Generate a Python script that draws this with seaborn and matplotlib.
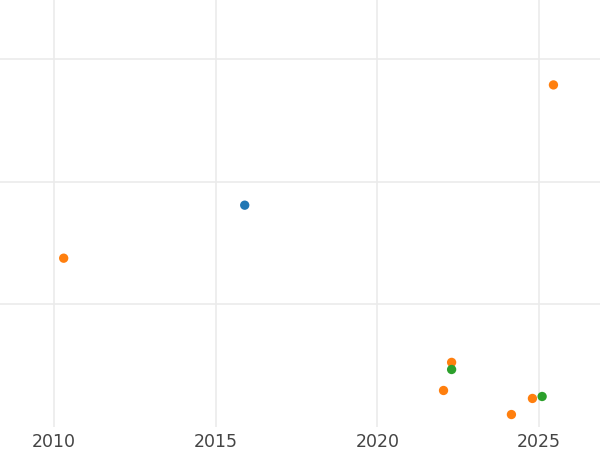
import pandas as pd
import matplotlib.pyplot as plt
import seaborn as sns

years = [2010.3, 2015.9, 2025.45, 2022.3, 2022.3, 2022.05, 2024.15, 2024.8, 2025.1]
values = [13.76, 18.08, 27.88, 5.27, 4.69, 2.98, 1.02, 2.33, 2.49]
groups = ["B", "A", "B", "B", "C", "B", "B", "B", "C"]
colors = {"A": "#1f77b4", "B": "#ff7f0e", "C": "#2ca02c"}

df = pd.DataFrame({"year": years, "value": values, "group": groups})

sns.set_style("whitegrid")
fig = plt.figure(figsize=(6, 4.5), dpi=100)
ax = fig.add_axes([0, 0.051, 1, 0.949])

sns.scatterplot(data=df, x="year", y="value", hue="group", palette=colors,
                s=45, linewidth=0, legend=False, ax=ax, zorder=3)

ax.set_xlim(2008.33, 2026.89)
ax.set_ylim(0, 34.8)
ax.set_xticks([2010, 2015, 2020, 2025])
ax.set_yticks([10, 20, 30])
ax.set_yticklabels([])
ax.grid(True, color="#ebebeb", linewidth=1.2)
ax.tick_params(axis="x", length=0, labelsize=12.5, labelcolor="#444444", pad=4)
ax.tick_params(axis="y", length=0)
ax.set_xlabel("")
ax.set_ylabel("")
for s in ax.spines.values():
    s.set_visible(False)

fig.savefig("out.png", dpi=100)
